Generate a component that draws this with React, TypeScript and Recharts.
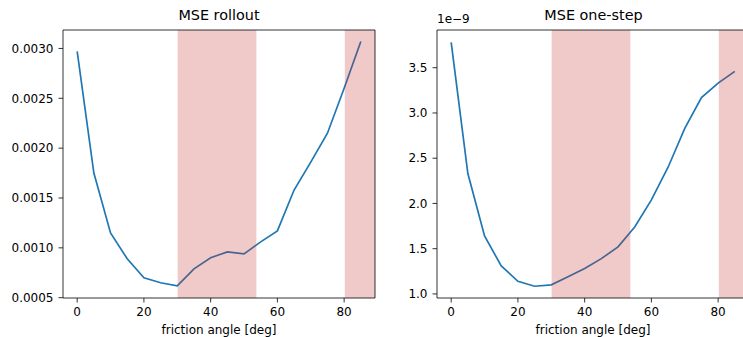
import { LineChart, Line, XAxis, YAxis, ReferenceArea } from "recharts"

const frictionAngles = [0, 5, 10, 15, 20, 25, 30, 35, 40, 45, 50, 55, 60, 65, 70, 75, 80, 85]

const rolloutMse = [
  0.00297, 0.00175, 0.00115, 0.00089, 0.0007, 0.00065, 0.00062, 0.00079, 0.0009, 0.00096,
  0.00094, 0.00106, 0.00117, 0.00158, 0.00186, 0.00215, 0.0026, 0.00307,
]

// one-step values in units of 1e-9
const oneStepMse = [
  3.78, 2.33, 1.64, 1.31, 1.14, 1.085, 1.1, 1.19, 1.28, 1.39, 1.52, 1.74, 2.04, 2.4, 2.83,
  3.17, 3.33, 3.46,
]

const xTicks = [0, 20, 40, 60, 80]
const rolloutTicks = [0.0005, 0.001, 0.0015, 0.002, 0.0025, 0.003]
const oneStepTicks = [1.0, 1.5, 2.0, 2.5, 3.0, 3.5]

// shaded ranges [deg]
const spans = [
  [30.1, 53.7],
  [80.2, 95],
]

const rolloutData = frictionAngles.map((a, i) => ({ angle: a, mse: rolloutMse[i] }))
const oneStepData = frictionAngles.map((a, i) => ({ angle: a, mse: oneStepMse[i] }))

const font = "'DejaVu Sans', sans-serif"
const tickStyle = { fontSize: 12, fill: "#000", fontFamily: font }
const xDomain = [-4.25, 89.25]

function Panel(props: {
  data: { angle: number; mse: number }[]
  yDomain: number[]
  yTicks: number[]
  digits: number
}) {
  return (
    <LineChart
      width={380}
      height={337}
      data={props.data}
      margin={{ top: 30, right: 5, bottom: 0, left: 0 }}
    >
      <XAxis
        dataKey="angle"
        type="number"
        domain={xDomain}
        ticks={xTicks}
        allowDataOverflow
        tick={tickStyle}
        tickSize={4.5}
        tickMargin={5}
        height={39}
        axisLine={false}
        tickLine={{ stroke: "#000", strokeWidth: 0.8 }}
        label={{
          value: "friction angle [deg]",
          position: "insideBottom",
          offset: 3,
          style: { fontSize: 12, fill: "#000", fontFamily: font },
        }}
      />
      <YAxis
        type="number"
        domain={props.yDomain}
        ticks={props.yTicks}
        allowDataOverflow
        width={63}
        tick={tickStyle}
        tickSize={4.5}
        tickMargin={5}
        axisLine={false}
        tickLine={{ stroke: "#000", strokeWidth: 0.8 }}
        tickFormatter={(v: number) => v.toFixed(props.digits)}
      />
      <Line
        type="linear"
        dataKey="mse"
        stroke="#1f77b4"
        strokeWidth={1.7}
        dot={false}
        isAnimationActive={false}
      />
      {spans.map(([a, b], i) => (
        <ReferenceArea
          key={i}
          x1={a}
          x2={b}
          ifOverflow="hidden"
          fill="#c42b27"
          fillOpacity={0.25}
          stroke="none"
          zIndex={1500}
        />
      ))}
      <ReferenceArea
        x1={xDomain[0]}
        x2={xDomain[1]}
        y1={props.yDomain[0]}
        y2={props.yDomain[1]}
        fill="none"
        stroke="#000"
        strokeWidth={0.8}
        zIndex={1600}
      />
    </LineChart>
  )
}

export default function App() {
  return (
    <div
      style={{
        position: "fixed",
        left: 0,
        top: 0,
        width: 743,
        height: 337,
        overflow: "hidden",
        background: "#fff",
        fontFamily: font,
      }}
    >
      <div style={{ position: "absolute", left: 0, top: 0 }}>
        <Panel
          data={rolloutData}
          yDomain={[0.000497, 0.003185]}
          yTicks={rolloutTicks}
          digits={4}
        />
      </div>
      <div style={{ position: "absolute", left: 374, top: 0 }}>
        <Panel data={oneStepData} yDomain={[0.955, 3.917]} yTicks={oneStepTicks} digits={1} />
      </div>
      <div
        style={{
          position: "absolute",
          left: 63,
          width: 312,
          top: 7,
          textAlign: "center",
          fontSize: 14.4,
          lineHeight: "17px",
        }}
      >
        MSE rollout
      </div>
      <div
        style={{
          position: "absolute",
          left: 437,
          width: 313,
          top: 7,
          textAlign: "center",
          fontSize: 14.4,
          lineHeight: "17px",
        }}
      >
        MSE one-step
      </div>
      <div
        style={{
          position: "absolute",
          left: 437,
          top: 12,
          fontSize: 12,
          lineHeight: "14px",
        }}
      >
        1e−9
      </div>
    </div>
  )
}
